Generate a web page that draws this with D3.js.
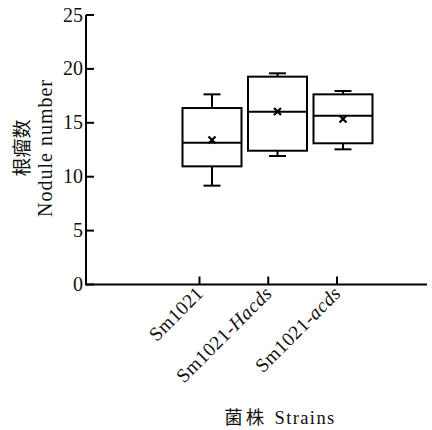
<!DOCTYPE html>
<html>
<head>
<meta charset="utf-8">
<script src="https://cdn.jsdelivr.net/npm/d3@7"></script>
<style>
  body { margin: 0; background: #fff; }
  text { font-family: "Liberation Serif", "Times New Roman", serif; fill: #111; }
</style>
</head>
<body>
<script>
var w = 432;
var h = 430;

var strains = ["Sm1021", "Sm1021-Hacds", "Sm1021-acds"];
var whiskerLow = [9.17, 11.92, 12.54];
var q1 = [10.96, 12.41, 13.1];
var median = [13.15, 16.03, 15.66];
var q3 = [16.37, 19.28, 17.64];
var whiskerHigh = [17.64, 19.59, 17.95];
var mean = [13.4, 16.05, 15.35];
var yTicks = [0, 5, 10, 15, 20, 25];

var padL = 86, padR = 427, padT = 15, padB = 284.5;

var svg = d3.select("body")
            .append("svg")
            .attr("width", w)
            .attr("height", h);

var y = d3.scaleLinear().domain([0, 25]).range([padB, padT]);
// ticks and boxes don't line up exactly in the original, so two scales
var xTick = d3.scalePoint().domain(strains).range([199.5, 337]);
var xBox = d3.scalePoint().domain(strains).range([212, 343]);
var boxW = 59;
var capW = 17;

// axes
svg.append("line")
   .attr("x1", padL).attr("x2", padL)
   .attr("y1", y(25)).attr("y2", padB)
   .attr("stroke", "#000").attr("stroke-width", 2);
svg.append("line")
   .attr("x1", padL - 1).attr("x2", padR)
   .attr("y1", padB).attr("y2", padB)
   .attr("stroke", "#000").attr("stroke-width", 2);

svg.selectAll(".ytick")
   .data(yTicks)
   .enter()
   .append("line")
   .attr("x1", padL).attr("x2", padL + 8)
   .attr("y1", function(d){ return y(d); })
   .attr("y2", function(d){ return y(d); })
   .attr("stroke", "#000").attr("stroke-width", 2);

svg.selectAll(".ylab")
   .data(yTicks)
   .enter()
   .append("text")
   .text(function(d){ return d; })
   .attr("x", padL - 3)
   .attr("y", function(d){ return y(d) + 6.5; })
   .attr("text-anchor", "end")
   .attr("font-size", "20px");

svg.selectAll(".xtick")
   .data(strains)
   .enter()
   .append("line")
   .attr("x1", function(d){ return xTick(d); })
   .attr("x2", function(d){ return xTick(d); })
   .attr("y1", padB).attr("y2", padB - 8)
   .attr("stroke", "#000").attr("stroke-width", 2);

// rotated category labels, with the italic gene part
var xl = svg.selectAll(".xlab")
   .data(strains)
   .enter()
   .append("text")
   .attr("text-anchor", "end")
   .attr("font-size", "19.5px")
   .attr("letter-spacing", "0.4px")
   .attr("transform", function(d){
       return "translate(" + (xTick(d) + 5) + "," + (padB + 10) + ") rotate(-45)";
   });
xl.append("tspan").text(function(d){
    var i = d.indexOf("-");
    return i < 0 ? d : d.slice(0, i + 1);
});
xl.append("tspan")
  .attr("font-style", "italic")
  .text(function(d){
    var i = d.indexOf("-");
    return i < 0 ? "" : d.slice(i + 1);
  });

// boxes
var g = svg.selectAll(".box")
   .data(strains)
   .enter()
   .append("g")
   .attr("stroke", "#000")
   .attr("stroke-width", 2)
   .attr("fill", "none");

g.append("line")
 .attr("x1", function(d){ return xBox(d); })
 .attr("x2", function(d){ return xBox(d); })
 .attr("y1", function(d, i){ return y(whiskerHigh[i]); })
 .attr("y2", function(d, i){ return y(q3[i]); });
g.append("line")
 .attr("x1", function(d){ return xBox(d); })
 .attr("x2", function(d){ return xBox(d); })
 .attr("y1", function(d, i){ return y(q1[i]); })
 .attr("y2", function(d, i){ return y(whiskerLow[i]); });
g.append("line")
 .attr("x1", function(d){ return xBox(d) - capW / 2; })
 .attr("x2", function(d){ return xBox(d) + capW / 2; })
 .attr("y1", function(d, i){ return y(whiskerHigh[i]); })
 .attr("y2", function(d, i){ return y(whiskerHigh[i]); });
g.append("line")
 .attr("x1", function(d){ return xBox(d) - capW / 2; })
 .attr("x2", function(d){ return xBox(d) + capW / 2; })
 .attr("y1", function(d, i){ return y(whiskerLow[i]); })
 .attr("y2", function(d, i){ return y(whiskerLow[i]); });
g.append("rect")
 .attr("x", function(d){ return xBox(d) - boxW / 2; })
 .attr("width", boxW)
 .attr("y", function(d, i){ return y(q3[i]); })
 .attr("height", function(d, i){ return y(q1[i]) - y(q3[i]); })
 .attr("fill", "#fff");
g.append("line")
 .attr("x1", function(d){ return xBox(d) - boxW / 2; })
 .attr("x2", function(d){ return xBox(d) + boxW / 2; })
 .attr("y1", function(d, i){ return y(median[i]); })
 .attr("y2", function(d, i){ return y(median[i]); });
// mean marker
g.append("path")
 .attr("d", function(d, i){
     var cx = xBox(d), cy = y(mean[i]), s = 3.5;
     return "M" + (cx - s) + "," + (cy - s) + "L" + (cx + s) + "," + (cy + s) +
            "M" + (cx - s) + "," + (cy + s) + "L" + (cx + s) + "," + (cy - s);
 })
 .attr("stroke-width", 2.2);

// axis titles
var yt = svg.append("text")
   .attr("transform", "translate(0,148) rotate(-90)")
   .attr("text-anchor", "middle");
yt.append("tspan").attr("x", 0).attr("y", 29)
  .attr("font-family", "Noto Sans CJK SC").attr("font-size", "19px")
  .text("根瘤数");
yt.append("tspan").attr("x", 0).attr("y", 52)
  .attr("font-size", "20px").attr("letter-spacing", "1px")
  .text("Nodule number");

var xt = svg.append("text")
   .attr("x", 280).attr("y", 424)
   .attr("text-anchor", "middle")
   .attr("font-size", "18.5px");
xt.append("tspan").attr("font-family", "Noto Sans CJK SC")
  .attr("letter-spacing", "3px").text("菌株 ");
xt.append("tspan").attr("letter-spacing", "1.4px").text("Strains");
</script>
</body>
</html>
